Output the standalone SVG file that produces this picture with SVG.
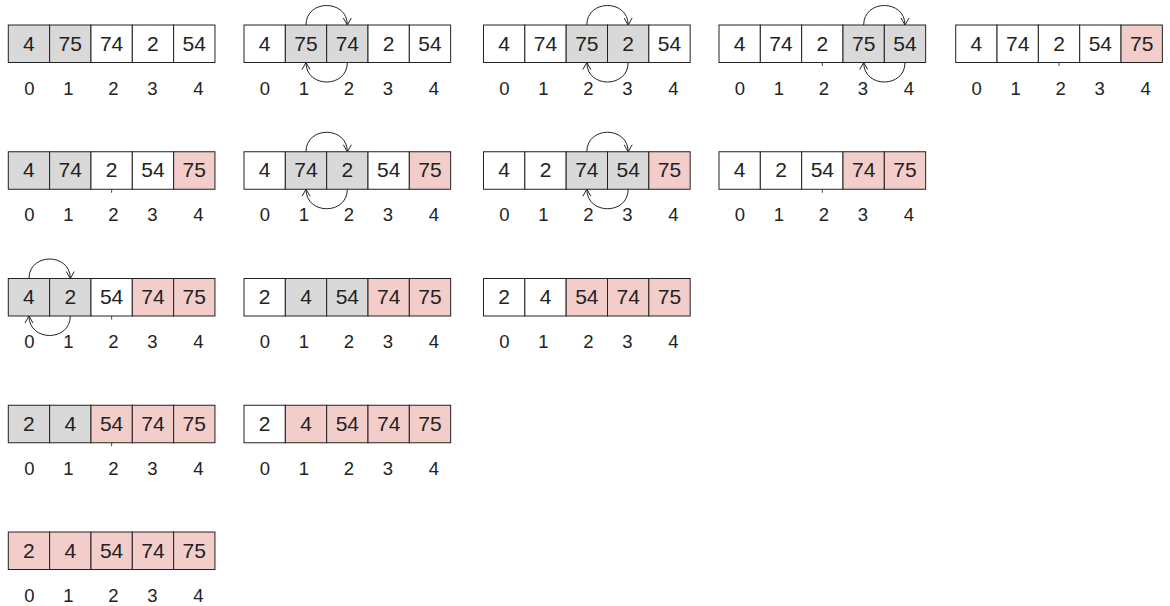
<svg xmlns="http://www.w3.org/2000/svg" width="1170" height="606" viewBox="0 0 1170 606">
<style>
.c{stroke:#222;stroke-width:1}
.w{fill:#fff}
.g{fill:#d9d9d9}
.p{fill:#f2cdca}
.v{font-family:"Liberation Sans",Arial,sans-serif;font-size:21px;fill:#222;text-anchor:middle}
.i{font-family:"Liberation Sans",Arial,sans-serif;font-size:18.5px;fill:#222;text-anchor:middle}
.a{fill:none;stroke:#222;stroke-width:1}
.t{stroke:#444;stroke-width:1}
</style>
<defs>
<marker id="ah" markerUnits="userSpaceOnUse" markerWidth="10" markerHeight="10" viewBox="0 0 10 10" refX="8" refY="5" orient="auto" overflow="visible">
<path d="M1,1 L8,5 L1,9" fill="none" stroke="#222" stroke-width="1"/>
</marker>
<g id="idx">
<text class="i" x="21" y="69.5">0</text><text class="i" x="60" y="69.5">1</text><text class="i" x="105" y="69.5">2</text><text class="i" x="144" y="69.5">3</text><text class="i" x="190" y="69.5">4</text>
</g>
</defs>

<g id="a1" transform="translate(8.3,25)">
<rect class="c g" x="0" y="0" width="41.33" height="37.5"/><rect class="c g" x="41.33" y="0" width="41.33" height="37.5"/><rect class="c w" x="82.67" y="0" width="41.33" height="37.5"/><rect class="c w" x="124" y="0" width="41.33" height="37.5"/><rect class="c w" x="165.33" y="0" width="41.33" height="37.5"/>
<text class="v" x="20.67" y="25.5">4</text><text class="v" x="62" y="25.5">75</text><text class="v" x="103.33" y="25.5">74</text><text class="v" x="144.67" y="25.5">2</text><text class="v" x="186" y="25.5">54</text>
<use href="#idx"/>
</g>
<g id="a2" transform="translate(244,25)">
<rect class="c w" x="0" y="0" width="41.33" height="37.5"/><rect class="c g" x="41.33" y="0" width="41.33" height="37.5"/><rect class="c g" x="82.67" y="0" width="41.33" height="37.5"/><rect class="c w" x="124" y="0" width="41.33" height="37.5"/><rect class="c w" x="165.33" y="0" width="41.33" height="37.5"/>
<text class="v" x="20.67" y="25.5">4</text><text class="v" x="62" y="25.5">75</text><text class="v" x="103.33" y="25.5">74</text><text class="v" x="144.67" y="25.5">2</text><text class="v" x="186" y="25.5">54</text>
<use href="#idx"/>
</g>
<g id="a3" transform="translate(483.5,25)">
<rect class="c w" x="0" y="0" width="41.33" height="37.5"/><rect class="c w" x="41.33" y="0" width="41.33" height="37.5"/><rect class="c g" x="82.67" y="0" width="41.33" height="37.5"/><rect class="c g" x="124" y="0" width="41.33" height="37.5"/><rect class="c w" x="165.33" y="0" width="41.33" height="37.5"/>
<text class="v" x="20.67" y="25.5">4</text><text class="v" x="62" y="25.5">74</text><text class="v" x="103.33" y="25.5">75</text><text class="v" x="144.67" y="25.5">2</text><text class="v" x="186" y="25.5">54</text>
<use href="#idx"/>
</g>
<g id="a4" transform="translate(719,25)">
<rect class="c w" x="0" y="0" width="41.33" height="37.5"/><rect class="c w" x="41.33" y="0" width="41.33" height="37.5"/><rect class="c w" x="82.67" y="0" width="41.33" height="37.5"/><rect class="c g" x="124" y="0" width="41.33" height="37.5"/><rect class="c g" x="165.33" y="0" width="41.33" height="37.5"/>
<text class="v" x="20.67" y="25.5">4</text><text class="v" x="62" y="25.5">74</text><text class="v" x="103.33" y="25.5">2</text><text class="v" x="144.67" y="25.5">75</text><text class="v" x="186" y="25.5">54</text>
<use href="#idx"/>
</g>
<g id="a5" transform="translate(955.7,25)">
<rect class="c w" x="0" y="0" width="41.33" height="37.5"/><rect class="c w" x="41.33" y="0" width="41.33" height="37.5"/><rect class="c w" x="82.67" y="0" width="41.33" height="37.5"/><rect class="c w" x="124" y="0" width="41.33" height="37.5"/><rect class="c p" x="165.33" y="0" width="41.33" height="37.5"/>
<text class="v" x="20.67" y="25.5">4</text><text class="v" x="62" y="25.5">74</text><text class="v" x="103.33" y="25.5">2</text><text class="v" x="144.67" y="25.5">54</text><text class="v" x="186" y="25.5">75</text>
<use href="#idx"/>
</g>

<g id="b1" transform="translate(8.3,151.75)">
<rect class="c g" x="0" y="0" width="41.33" height="37.5"/><rect class="c g" x="41.33" y="0" width="41.33" height="37.5"/><rect class="c w" x="82.67" y="0" width="41.33" height="37.5"/><rect class="c w" x="124" y="0" width="41.33" height="37.5"/><rect class="c p" x="165.33" y="0" width="41.33" height="37.5"/>
<text class="v" x="20.67" y="25.5">4</text><text class="v" x="62" y="25.5">74</text><text class="v" x="103.33" y="25.5">2</text><text class="v" x="144.67" y="25.5">54</text><text class="v" x="186" y="25.5">75</text>
<use href="#idx"/>
</g>
<g id="b2" transform="translate(244,151.75)">
<rect class="c w" x="0" y="0" width="41.33" height="37.5"/><rect class="c g" x="41.33" y="0" width="41.33" height="37.5"/><rect class="c g" x="82.67" y="0" width="41.33" height="37.5"/><rect class="c w" x="124" y="0" width="41.33" height="37.5"/><rect class="c p" x="165.33" y="0" width="41.33" height="37.5"/>
<text class="v" x="20.67" y="25.5">4</text><text class="v" x="62" y="25.5">74</text><text class="v" x="103.33" y="25.5">2</text><text class="v" x="144.67" y="25.5">54</text><text class="v" x="186" y="25.5">75</text>
<use href="#idx"/>
</g>
<g id="b3" transform="translate(483.5,151.75)">
<rect class="c w" x="0" y="0" width="41.33" height="37.5"/><rect class="c w" x="41.33" y="0" width="41.33" height="37.5"/><rect class="c g" x="82.67" y="0" width="41.33" height="37.5"/><rect class="c g" x="124" y="0" width="41.33" height="37.5"/><rect class="c p" x="165.33" y="0" width="41.33" height="37.5"/>
<text class="v" x="20.67" y="25.5">4</text><text class="v" x="62" y="25.5">2</text><text class="v" x="103.33" y="25.5">74</text><text class="v" x="144.67" y="25.5">54</text><text class="v" x="186" y="25.5">75</text>
<use href="#idx"/>
</g>
<g id="b4" transform="translate(719,151.75)">
<rect class="c w" x="0" y="0" width="41.33" height="37.5"/><rect class="c w" x="41.33" y="0" width="41.33" height="37.5"/><rect class="c w" x="82.67" y="0" width="41.33" height="37.5"/><rect class="c p" x="124" y="0" width="41.33" height="37.5"/><rect class="c p" x="165.33" y="0" width="41.33" height="37.5"/>
<text class="v" x="20.67" y="25.5">4</text><text class="v" x="62" y="25.5">2</text><text class="v" x="103.33" y="25.5">54</text><text class="v" x="144.67" y="25.5">74</text><text class="v" x="186" y="25.5">75</text>
<use href="#idx"/>
</g>

<g id="c1" transform="translate(8.3,278.5)">
<rect class="c g" x="0" y="0" width="41.33" height="37.5"/><rect class="c g" x="41.33" y="0" width="41.33" height="37.5"/><rect class="c w" x="82.67" y="0" width="41.33" height="37.5"/><rect class="c p" x="124" y="0" width="41.33" height="37.5"/><rect class="c p" x="165.33" y="0" width="41.33" height="37.5"/>
<text class="v" x="20.67" y="25.5">4</text><text class="v" x="62" y="25.5">2</text><text class="v" x="103.33" y="25.5">54</text><text class="v" x="144.67" y="25.5">74</text><text class="v" x="186" y="25.5">75</text>
<use href="#idx"/>
</g>
<g id="c2" transform="translate(244,278.5)">
<rect class="c w" x="0" y="0" width="41.33" height="37.5"/><rect class="c g" x="41.33" y="0" width="41.33" height="37.5"/><rect class="c g" x="82.67" y="0" width="41.33" height="37.5"/><rect class="c p" x="124" y="0" width="41.33" height="37.5"/><rect class="c p" x="165.33" y="0" width="41.33" height="37.5"/>
<text class="v" x="20.67" y="25.5">2</text><text class="v" x="62" y="25.5">4</text><text class="v" x="103.33" y="25.5">54</text><text class="v" x="144.67" y="25.5">74</text><text class="v" x="186" y="25.5">75</text>
<use href="#idx"/>
</g>
<g id="c3" transform="translate(483.5,278.5)">
<rect class="c w" x="0" y="0" width="41.33" height="37.5"/><rect class="c w" x="41.33" y="0" width="41.33" height="37.5"/><rect class="c p" x="82.67" y="0" width="41.33" height="37.5"/><rect class="c p" x="124" y="0" width="41.33" height="37.5"/><rect class="c p" x="165.33" y="0" width="41.33" height="37.5"/>
<text class="v" x="20.67" y="25.5">2</text><text class="v" x="62" y="25.5">4</text><text class="v" x="103.33" y="25.5">54</text><text class="v" x="144.67" y="25.5">74</text><text class="v" x="186" y="25.5">75</text>
<use href="#idx"/>
</g>

<g id="d1" transform="translate(8.3,405.25)">
<rect class="c g" x="0" y="0" width="41.33" height="37.5"/><rect class="c g" x="41.33" y="0" width="41.33" height="37.5"/><rect class="c p" x="82.67" y="0" width="41.33" height="37.5"/><rect class="c p" x="124" y="0" width="41.33" height="37.5"/><rect class="c p" x="165.33" y="0" width="41.33" height="37.5"/>
<text class="v" x="20.67" y="25.5">2</text><text class="v" x="62" y="25.5">4</text><text class="v" x="103.33" y="25.5">54</text><text class="v" x="144.67" y="25.5">74</text><text class="v" x="186" y="25.5">75</text>
<use href="#idx"/>
</g>
<g id="d2" transform="translate(244,405.25)">
<rect class="c w" x="0" y="0" width="41.33" height="37.5"/><rect class="c p" x="41.33" y="0" width="41.33" height="37.5"/><rect class="c p" x="82.67" y="0" width="41.33" height="37.5"/><rect class="c p" x="124" y="0" width="41.33" height="37.5"/><rect class="c p" x="165.33" y="0" width="41.33" height="37.5"/>
<text class="v" x="20.67" y="25.5">2</text><text class="v" x="62" y="25.5">4</text><text class="v" x="103.33" y="25.5">54</text><text class="v" x="144.67" y="25.5">74</text><text class="v" x="186" y="25.5">75</text>
<use href="#idx"/>
</g>

<g id="e1" transform="translate(8.3,532)">
<rect class="c p" x="0" y="0" width="41.33" height="37.5"/><rect class="c p" x="41.33" y="0" width="41.33" height="37.5"/><rect class="c p" x="82.67" y="0" width="41.33" height="37.5"/><rect class="c p" x="124" y="0" width="41.33" height="37.5"/><rect class="c p" x="165.33" y="0" width="41.33" height="37.5"/>
<text class="v" x="20.67" y="25.5">2</text><text class="v" x="62" y="25.5">4</text><text class="v" x="103.33" y="25.5">54</text><text class="v" x="144.67" y="25.5">74</text><text class="v" x="186" y="25.5">75</text>
<use href="#idx"/>
</g>

<g id="connectors">
<path class="a" marker-end="url(#ah)" d="M306,25 C306,-1 347.33,-1 347.33,25"/>
<path class="a" marker-end="url(#ah)" d="M347.33,62.5 C347.33,88.5 306,88.5 306,62.5"/>
<path class="a" marker-end="url(#ah)" d="M586.83,25 C586.83,-1 628.17,-1 628.17,25"/>
<path class="a" marker-end="url(#ah)" d="M628.17,62.5 C628.17,88.5 586.83,88.5 586.83,62.5"/>
<path class="a" marker-end="url(#ah)" d="M863.67,25 C863.67,-1 905,-1 905,25"/>
<path class="a" marker-end="url(#ah)" d="M905,62.5 C905,88.5 863.67,88.5 863.67,62.5"/>
<path class="a" marker-end="url(#ah)" d="M306,151.75 C306,125.75 347.33,125.75 347.33,151.75"/>
<path class="a" marker-end="url(#ah)" d="M347.33,189.25 C347.33,215.25 306,215.25 306,189.25"/>
<path class="a" marker-end="url(#ah)" d="M586.83,151.75 C586.83,125.75 628.17,125.75 628.17,151.75"/>
<path class="a" marker-end="url(#ah)" d="M628.17,189.25 C628.17,215.25 586.83,215.25 586.83,189.25"/>
<path class="a" marker-end="url(#ah)" d="M28.97,278.5 C28.97,252.5 70.3,252.5 70.3,278.5"/>
<path class="a" marker-end="url(#ah)" d="M70.3,316 C70.3,342 28.97,342 28.97,316"/>
<line class="t" x1="822.33" y1="62.5" x2="822.33" y2="66"/>
<line class="t" x1="1059.03" y1="62.5" x2="1059.03" y2="66"/>
<line class="t" x1="111.63" y1="189.25" x2="111.63" y2="192.75"/>
<line class="t" x1="822.33" y1="189.25" x2="822.33" y2="192.75"/>
<line class="t" x1="111.63" y1="316" x2="111.63" y2="319.5"/>
<line class="t" x1="111.63" y1="442.75" x2="111.63" y2="446.25"/>
</g>
</svg>
